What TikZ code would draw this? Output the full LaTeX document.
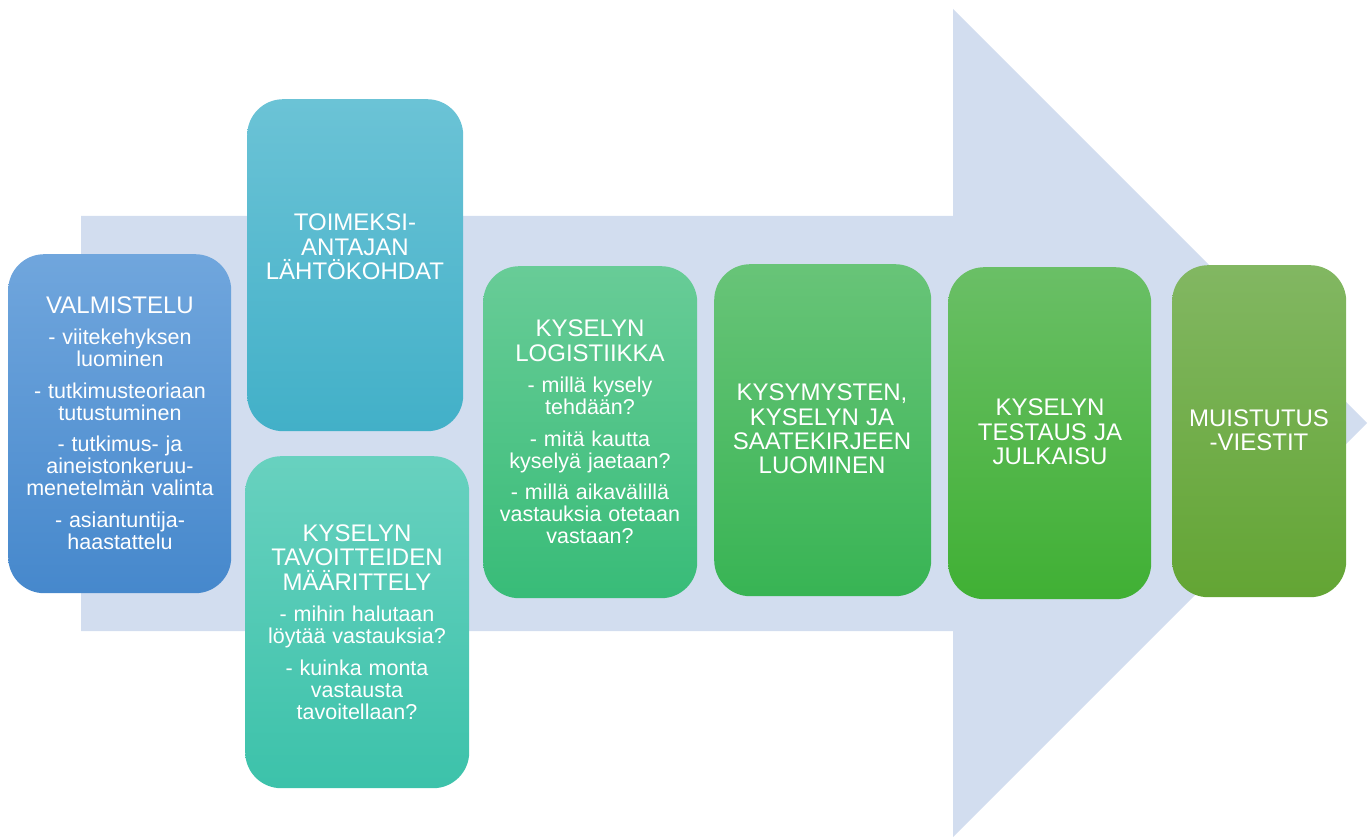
\documentclass[tikz,border=0pt]{standalone}
\usepackage{fontspec}
\setmainfont{Liberation Sans}
\definecolor{arrowfill}{HTML}{D2DDEF}
\definecolor{c1t}{HTML}{70A6DD}\definecolor{c1b}{HTML}{4688CC}
\definecolor{c2t}{HTML}{6BC3D6}\definecolor{c2b}{HTML}{42B0C8}
\definecolor{c3t}{HTML}{68D1BF}\definecolor{c3b}{HTML}{3CC2AA}
\definecolor{c4t}{HTML}{68CC97}\definecolor{c4b}{HTML}{38BC78}
\definecolor{c5t}{HTML}{68C478}\definecolor{c5b}{HTML}{38B454}
\definecolor{c6t}{HTML}{6ABF66}\definecolor{c6b}{HTML}{40B034}
\definecolor{c7t}{HTML}{82B762}\definecolor{c7b}{HTML}{63A534}
\newcommand\boxttl[1]{{\fontsize{24}{24.3}\selectfont\spaceskip=0.3em\relax #1\par}}
\newcommand\boxitem[1]{\vspace{9.5pt}{\fontsize{21.5}{22}\selectfont\spaceskip=0.32em\relax #1\par}}
\begin{document}
\begin{tikzpicture}[x=1pt,y=-1pt,
  card/.style={rectangle, rounded corners=36pt, draw=none, anchor=north west, inner sep=0pt},
  txt/.style={text=white, text width=240pt, align=center, inner sep=0pt},
]
\useasboundingbox (0,0) rectangle (1369,837);
\fill[arrowfill] (81,216) -- (953,216) -- (953,9) -- (1367,423) -- (953,837) -- (953,631) -- (81,631) -- cycle;
% cards
\node[card, top color=c1t, bottom color=c1b, minimum width=223pt, minimum height=339pt] (b1) at (8,254) {};
\node[card, top color=c2t, bottom color=c2b, minimum width=216pt, minimum height=332pt] (b2) at (247,99) {};
\node[card, top color=c3t, bottom color=c3b, minimum width=224pt, minimum height=332pt] (b3) at (245,456) {};
\node[card, top color=c4t, bottom color=c4b, minimum width=214pt, minimum height=332pt] (b4) at (483,266) {};
\node[card, top color=c5t, bottom color=c5b, minimum width=217pt, minimum height=332pt] (b5) at (714,264) {};
\node[card, top color=c6t, bottom color=c6b, minimum width=203pt, minimum height=332pt] (b6) at (948,267) {};
\node[card, top color=c7t, bottom color=c7b, minimum width=174pt, minimum height=332pt] (b7) at (1172,265) {};
% texts
\node[txt] (t1) at (120,423) {\boxttl{VALMISTELU}\boxitem{- viitekehyksen\\luominen}\boxitem{- tutkimusteoriaan\\tutustuminen}\boxitem{- tutkimus- ja\\aineistonkeruu-\\menetelmän valinta}\boxitem{- asiantuntija-\\haastattelu}};
\node[txt] (t2) at (355,247) {\boxttl{TOIMEKSI-\\ANTAJAN\\LÄHTÖKOHDAT}};
\node[txt] (t3) at (357,622) {\boxttl{KYSELYN\\TAVOITTEIDEN\\MÄÄRITTELY}\boxitem{- mihin halutaan\\löytää vastauksia?}\boxitem{- kuinka monta\\vastausta\\tavoitellaan?}};
\node[txt] (t4) at (590,432) {\boxttl{KYSELYN\\LOGISTIIKKA}\boxitem{- millä kysely\\tehdään?}\boxitem{- mitä kautta\\kyselyä jaetaan?}\boxitem{- millä aikavälillä\\vastauksia otetaan\\vastaan?}};
\node[txt] (t5) at (822,429) {\boxttl{KYSYMYSTEN,\\KYSELYN JA\\SAATEKIRJEEN\\LUOMINEN}};
\node[txt] (t6) at (1050,432) {\boxttl{KYSELYN\\TESTAUS JA\\JULKAISU}};
\node[txt] (t7) at (1259,430) {\boxttl{MUISTUTUS\\-VIESTIT}};
\end{tikzpicture}
\end{document}
